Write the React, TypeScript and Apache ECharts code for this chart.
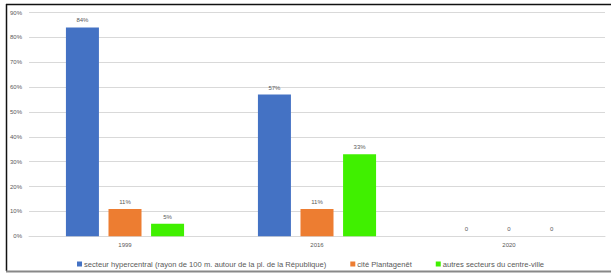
import React, { useEffect, useRef } from "react";
import * as echarts from "echarts";

const categories = ["1999", "2016", "2020"];
const seriesNames = [
  "secteur hypercentral (rayon de 100 m. autour de la pl. de la République)",
  "cité Plantagenêt",
  "autres secteurs du centre-ville",
];
const hypercentral = [84, 57, 0];
const plantagenet = [11, 11, 0];
const autres = [5, 33, 0];
const colors = ["#4472C4", "#ED7D31", "#40F000"];

export default function App() {
  const ref = useRef<HTMLDivElement>(null);
  useEffect(() => {
    const chart = echarts.init(ref.current!, null, { renderer: "svg" });
    const font = "'Liberation Sans', Arial, sans-serif";
    const mk = (name: string, data: number[], i: number) => ({
      name,
      type: "bar",
      data,
      barWidth: 33,
      barGap: "29%",
      itemStyle: { color: colors[i] },
      label: {
        show: true,
        position: "top",
        distance: 4,
        fontSize: 6,
        fontFamily: font,
        color: "#595959",
        formatter: (p: any) => (p.value === 0 ? "0" : p.value + "%"),
      },
    });
    chart.setOption({
      animation: false,
      backgroundColor: "#fff",
      grid: { left: 29, right: 6, top: 12.5, bottom: 36.7 },
      xAxis: {
        type: "category",
        data: categories,
        axisLine: { lineStyle: { color: "#d9d9d9", width: 1 } },
        axisTick: { show: false },
        axisLabel: { fontSize: 6, color: "#595959", fontFamily: font, margin: 6 },
      },
      yAxis: {
        type: "value",
        min: 0,
        max: 90,
        interval: 10,
        axisLine: { show: false },
        axisTick: { show: false },
        splitLine: { lineStyle: { color: "#d9d9d9", width: 1 } },
        axisLabel: {
          fontSize: 6,
          color: "#595959",
          fontFamily: font,
          margin: 7,
          formatter: "{value}%",
        },
      },
      legend: {
        left: 72,
        top: 255,
        itemWidth: 5,
        itemHeight: 5,
        itemGap: 24,
        icon: "rect",
        textStyle: { fontSize: 7.6, color: "#595959", fontFamily: font, padding: [0, 0, 0, -3] },
        data: seriesNames,
      },
      series: [mk(seriesNames[0], hypercentral, 0), mk(seriesNames[1], plantagenet, 1), mk(seriesNames[2], autres, 2)],
      graphic: [
        { type: "line", shape: { x1: 6, y1: 4.5, x2: 611, y2: 4.5 }, style: { stroke: "#111", lineWidth: 1.5 } },
        { type: "line", shape: { x1: 6.5, y1: 4, x2: 6.5, y2: 271 }, style: { stroke: "#111", lineWidth: 1.5 } },
        { type: "line", shape: { x1: 6, y1: 271.5, x2: 611, y2: 271.5 }, style: { stroke: "#888", lineWidth: 2 } },
      ],
    });
    return () => chart.dispose();
  }, []);
  return (
    <div
      ref={ref}
      style={{ position: "fixed", left: 0, top: 0, width: 611, height: 273 }}
    />
  );
}
